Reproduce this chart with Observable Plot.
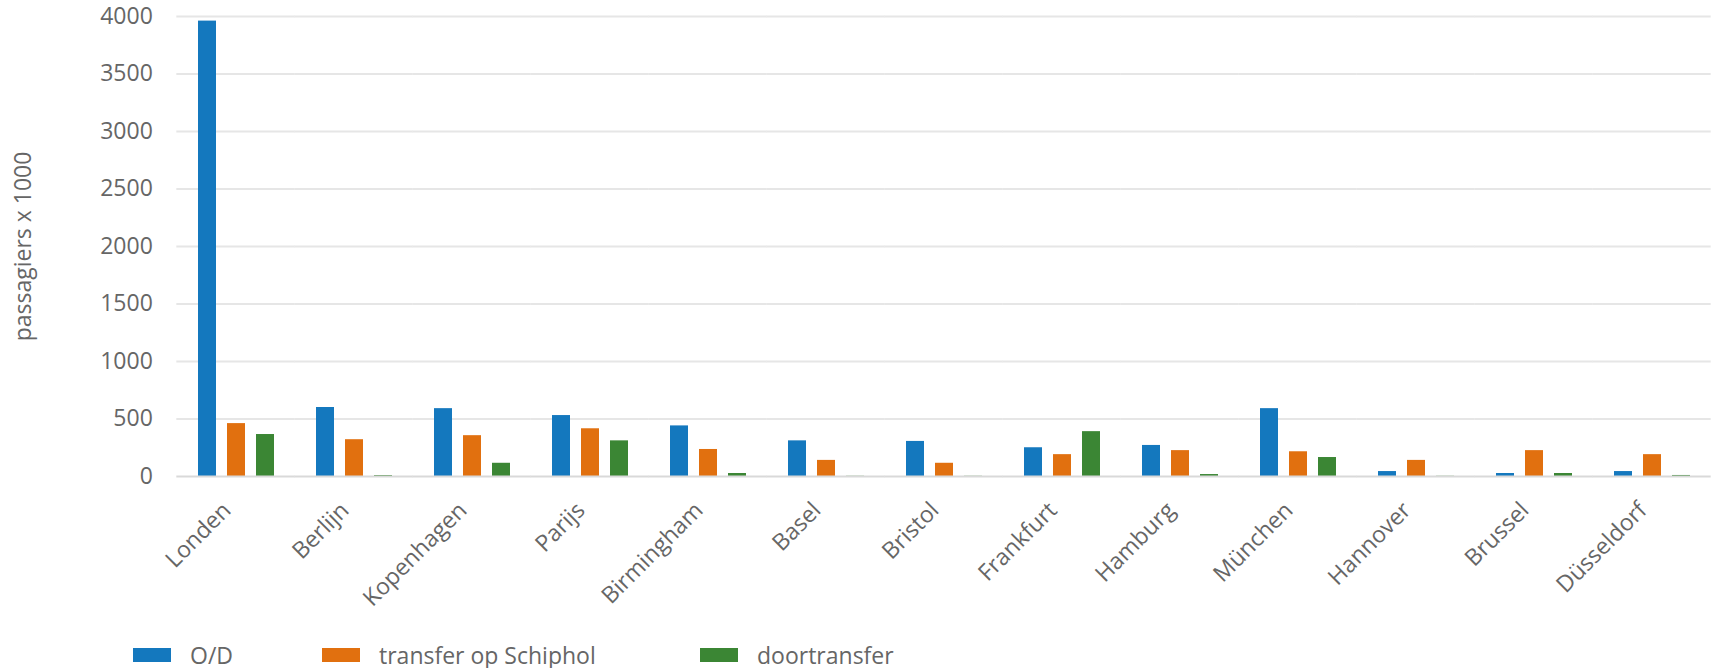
<!DOCTYPE html>
<html><head><meta charset="utf-8">
<script src="https://cdn.jsdelivr.net/npm/d3@7"></script>
<script src="https://cdn.jsdelivr.net/npm/@observablehq/plot@0.6"></script>
<style>
body{margin:0;background:#fff;font-family:'Open Sans',sans-serif;}
#wrap{position:relative;width:1715px;height:668px;background:#fff;}
.legend{position:absolute;top:641px;left:0;width:1715px;height:28px;}
.item{position:absolute;top:0;display:flex;align-items:center;height:28px;font-size:23px;color:#666;white-space:nowrap;}
.sw{width:38px;height:14px;margin-right:19px;}
</style></head><body><div id="wrap"></div>
<script>
const cities = ["Londen","Berlijn","Kopenhagen","Parijs","Birmingham","Basel","Bristol","Frankfurt","Hamburg","München","Hannover","Brussel","Düsseldorf"];
const seriesNames = ["O/D","transfer op Schiphol","doortransfer"];
const od       = [3960, 600, 590, 530, 440, 310, 305, 250, 270, 590, 43, 26, 43];
const transfer = [460, 320, 355, 415, 235, 140, 115, 190, 225, 215, 140, 225, 190];
const door     = [365, 8, 115, 310, 26, 2, 2, 390, 17, 165, 2, 26, 9];
const colors = ["#1478be","#e1700f","#3b8634"];
const yTicks = [0,500,1000,1500,2000,2500,3000,3500,4000];
const yLabel = "passagiers x 1000";

const seriesValues = [od, transfer, door];
const rows = cities.flatMap((c,i)=>seriesValues.map((arr,j)=>({city:c, series:seriesNames[j], value:arr[i]})));

const W = 1715, ML = 175, MR = 3;
const padInner = 0.35;
const step = (W - ML - MR) / cities.length;
const half = padInner * step / 2; // gap on each side of a facet frame

const chart = Plot.plot({
  width:W, height:620, marginLeft:ML, marginRight:MR, marginTop:16, marginBottom:144,
  style:{fontFamily:"'Open Sans', sans-serif", fontSize:"23px", color:"#666", background:"#fff"},
  fx:{domain:cities, paddingInner:padInner, paddingOuter:padInner/2},
  x:{domain:seriesNames, paddingInner:0.39, paddingOuter:0, axis:null},
  y:{domain:[0,4000]},
  color:{domain:seriesNames, range:colors},
  marks:[
    Plot.ruleY(yTicks.filter(d=>d>0), {stroke:"#e6e6e6", strokeWidth:2, insetLeft:-half, insetRight:-half}),
    Plot.barY(rows, {fx:"city", x:"series", y:"value", fill:"series"}),
    Plot.ruleY([0], {stroke:"#d9d9d9", strokeWidth:2, insetLeft:-half, insetRight:-half}),
    Plot.axisY(yTicks, {tickSize:0, tickPadding:24 + half, tickFormat:d=>String(d), label:yLabel, labelAnchor:"center", labelArrow:"none", labelOffset:162 + half, fill:"#666"}),
    Plot.axisFx({anchor:"bottom", tickSize:0, tickPadding:30, tickRotate:-45, dx:-9, label:null, fill:"#666"})
  ]
});
const wrap = document.getElementById("wrap");
wrap.appendChild(chart);
const legend = document.createElement("div");
legend.className = "legend";
const lefts = [133, 322, 700];
seriesNames.forEach((s,i)=>{
  const it = document.createElement("div");
  it.className = "item";
  it.style.left = lefts[i] + "px";
  const sw = document.createElement("span");
  sw.className = "sw";
  sw.style.background = colors[i];
  it.appendChild(sw);
  it.appendChild(document.createTextNode(s));
  legend.appendChild(it);
});
wrap.appendChild(legend);
</script></body></html>
